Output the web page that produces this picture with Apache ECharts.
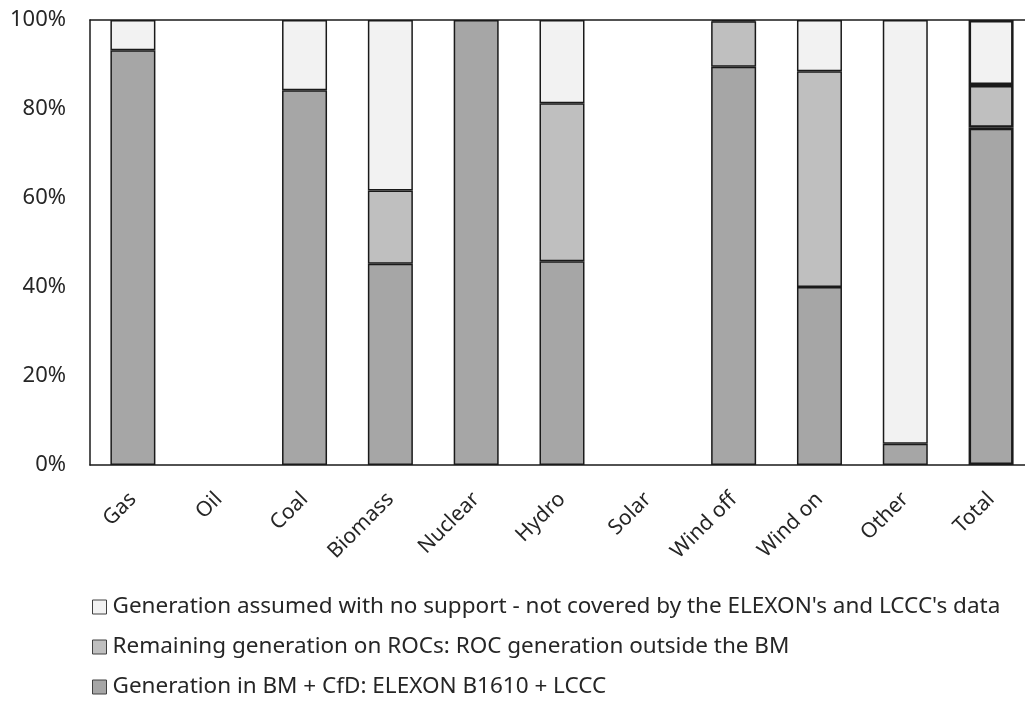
<!DOCTYPE html>
<html>
<head>
<meta charset="utf-8">
<script src="https://cdn.jsdelivr.net/npm/echarts@6/dist/echarts.min.js"></script>
<style>html,body{margin:0;padding:0;background:#fff;overflow:hidden}#c{width:1025px;height:704px}</style>
</head>
<body>
<div id="c"></div>
<script>
const categories = ['Gas','Oil','Coal','Biomass','Nuclear','Hydro','Solar','Wind off','Wind on','Other','Total'];
const bmCfd =     [93.2, 0, 84.2, 45.2, 100, 45.8, 0, 89.5, 40.0, 4.8, 75.8];
const rocOutside = [0,   0, 0,    16.5, 0,   35.5, 0, 10.2, 48.5, 0,   9.6];
const noSupport =  [6.8, 0, 15.8, 38.3, 0,   18.7, 0, 0.3,  11.5, 95.2, 14.6];
const yTicks = [0, 20, 40, 60, 80, 100];

const names = [
  "Generation in BM + CfD: ELEXON B1610 + LCCC",
  "Remaining generation on ROCs: ROC generation outside the BM",
  "Generation assumed with no support - not covered by the ELEXON's and LCCC's data"
];
const colors = ['#a6a6a6', '#bfbfbf', '#f2f2f2'];

function toData(arr) {
  return arr.map((v, i) => {
    if (!v) return '-';
    const item = { value: v };
    if (categories[i] === 'Total') item.itemStyle = { borderWidth: 2.5 };
    return item;
  });
}

const series = [bmCfd, rocOutside, noSupport].map((arr, k) => ({
  name: names[k],
  type: 'bar',
  stack: 'all',
  barWidth: 45,
  data: toData(arr),
  itemStyle: { color: colors[k], borderColor: '#1a1a1a', borderWidth: 1.5 },
  emphasis: { disabled: true }
}));

const chart = echarts.init(document.getElementById('c'));
chart.setOption({
  animation: false,
  grid: { left: 90, width: 944, top: 20, bottom: 239, containLabel: false, outerBoundsMode: 'none' },
  legend: {
    orient: 'vertical',
    left: 87,
    top: 590,
    itemWidth: 14,
    itemHeight: 14,
    itemGap: 16,
    icon: 'rect',
    data: [names[2], names[1], names[0]],
    itemStyle: { borderColor: '#404040', borderWidth: 1 },
    textStyle: { fontFamily: 'Noto Sans', fontSize: 22.5, color: '#262626', lineHeight: 24, padding: [0, 0, 0, 1] },
    selectedMode: false
  },
  xAxis: [{
    type: 'category',
    data: categories,
    axisLine: { show: true, lineStyle: { color: '#1a1a1a', width: 1.5 } },
    axisTick: { show: false },
    axisLabel: { rotate: 45, fontFamily: 'Noto Sans', fontSize: 21, color: '#262626', margin: 31, interval: 0 }
  }, {
    type: 'category',
    position: 'top',
    data: categories,
    axisLine: { show: true, lineStyle: { color: '#1a1a1a', width: 1.5 } },
    axisTick: { show: false },
    axisLabel: { show: false }
  }],
  yAxis: {
    type: 'value',
    min: yTicks[0],
    max: yTicks[yTicks.length - 1],
    interval: 20,
    axisLine: { show: true, lineStyle: { color: '#1a1a1a', width: 1.5 } },
    axisTick: { show: false },
    splitLine: { show: false },
    axisLabel: { formatter: '{value}%', fontFamily: 'Noto Sans', fontSize: 22, color: '#262626', margin: 24 }
  },
  series: series
});
</script>
</body>
</html>
